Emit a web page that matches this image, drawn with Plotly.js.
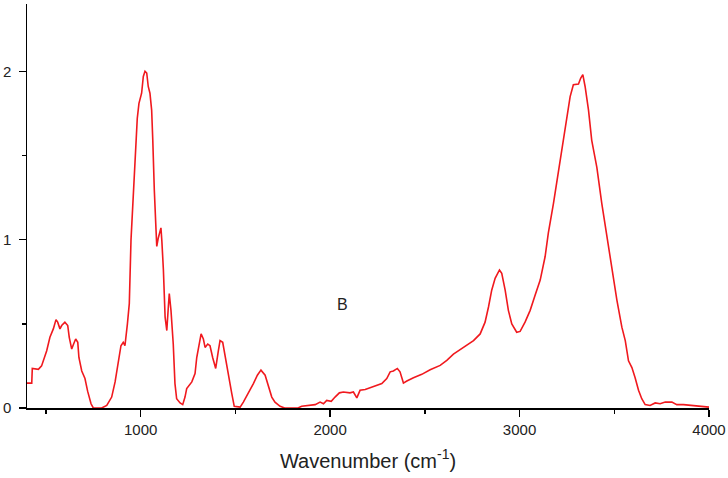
<!DOCTYPE html>
<html>
<head>
<meta charset="utf-8">
<script src="https://cdn.plot.ly/plotly-3.0.1.min.js"></script>
<style>html,body{margin:0;padding:0;background:#fff;}#chart{width:728px;height:478px;}</style>
</head>
<body>
<div id="chart"></div>
<script>
const wavenumber = [400,425,428,460,477,504,521,539,553,562,574,583,600,615,623,636,646,657,668,674,689,706,720,738,750,794,821,847,865,882,896,908,917,930,940,949,958,966,975,982,991,1005,1014,1023,1032,1040,1049,1058,1064,1067,1072,1081,1085,1093,1102,1107,1112,1120,1129,1138,1146,1151,1160,1172,1181,1190,1208,1222,1234,1243,1270,1287,1296,1310,1319,1331,1340,1354,1366,1380,1396,1410,1419,1433,1445,1463,1481,1494,1525,1542,1568,1595,1616,1635,1657,1674,1692,1709,1736,1760,1830,1850,1885,1921,1947,1965,1982,2006,2026,2049,2070,2105,2123,2141,2158,2185,2211,2246,2273,2299,2317,2334,2355,2369,2387,2405,2440,2484,2528,2581,2616,2651,2704,2757,2792,2818,2836,2853,2871,2894,2906,2924,2941,2959,2985,3003,3029,3056,3082,3109,3135,3152,3179,3205,3232,3249,3267,3284,3311,3323,3334,3346,3364,3381,3408,3434,3461,3487,3514,3540,3558,3575,3593,3610,3628,3645,3663,3689,3716,3742,3769,3804,3830,3865,3900,3936,3995,4000];
const absorbance = [0.148,0.148,0.235,0.23,0.25,0.34,0.42,0.47,0.525,0.51,0.47,0.49,0.51,0.49,0.42,0.35,0.38,0.41,0.39,0.30,0.22,0.175,0.10,0.025,0,0,0.015,0.065,0.155,0.265,0.37,0.39,0.37,0.50,0.62,1.00,1.20,1.40,1.59,1.72,1.81,1.87,1.97,2.00,1.99,1.91,1.87,1.77,1.59,1.45,1.295,1.06,0.96,1.01,1.06,1.07,0.99,0.82,0.54,0.46,0.60,0.68,0.58,0.38,0.145,0.055,0.03,0.02,0.065,0.115,0.155,0.205,0.30,0.40,0.44,0.41,0.36,0.38,0.37,0.30,0.235,0.34,0.40,0.39,0.31,0.205,0.085,0.01,0.005,0.035,0.085,0.145,0.195,0.225,0.195,0.135,0.065,0.035,0.01,0,0,0.01,0.015,0.02,0.035,0.025,0.045,0.04,0.065,0.09,0.095,0.09,0.095,0.06,0.105,0.11,0.12,0.135,0.145,0.175,0.215,0.22,0.235,0.215,0.148,0.16,0.18,0.2,0.227,0.253,0.283,0.32,0.36,0.40,0.44,0.51,0.60,0.70,0.77,0.82,0.80,0.70,0.58,0.50,0.45,0.455,0.51,0.58,0.67,0.76,0.90,1.04,1.215,1.41,1.59,1.73,1.85,1.92,1.925,1.96,1.98,1.91,1.77,1.59,1.43,1.215,1.02,0.84,0.64,0.48,0.40,0.28,0.24,0.18,0.105,0.055,0.02,0.015,0.03,0.025,0.035,0.035,0.02,0.02,0.015,0.01,0.005,0.005];
const xTickVals = [1000,2000,3000,4000];
const yTickVals = [0,1,2];
const xTitle = 'Wavenumber (cm<sup>-1</sup>)';
const labelText = 'B';

const tickFont = {family: 'Liberation Sans, Arial, sans-serif', size: 15, color: '#222'};

Plotly.newPlot('chart', [{
  x: wavenumber, y: absorbance, type: 'scatter', mode: 'lines',
  line: {color: 'rgb(240,25,30)', width: 1.6}, hoverinfo: 'skip'
}], {
  width: 728, height: 478,
  margin: {l: 27, r: 19, t: 4, b: 70, pad: 0},
  paper_bgcolor: '#fff', plot_bgcolor: '#fff',
  showlegend: false,
  xaxis: {
    range: [400, 4000], tickvals: xTickVals, ticktext: xTickVals.map(String),
    showline: true, linecolor: '#000', linewidth: 1.5, mirror: false,
    showgrid: false, zeroline: false,
    ticks: 'outside', ticklen: 7, tickwidth: 1.5, tickcolor: '#000',
    minor: {dtick: 500, tick0: 0, ticks: 'outside', ticklen: 4, tickwidth: 1.5, tickcolor: '#000', showgrid: false},
    tickfont: tickFont,
    title: {text: xTitle, font: {family: 'Liberation Sans, Arial, sans-serif', size: 20, color: '#222'}, standoff: 17}
  },
  yaxis: {
    range: [0, 2.4], tickvals: yTickVals, ticktext: yTickVals.map(v => String(v) + '\u00a0'),
    showline: true, linecolor: '#000', linewidth: 1.5,
    showgrid: false, zeroline: false,
    ticks: 'outside', ticklen: 7, tickwidth: 1.5, tickcolor: '#000',
    minor: {dtick: 0.5, tick0: 0, ticks: 'outside', ticklen: 4, tickwidth: 1.5, tickcolor: '#000', showgrid: false},
    tickfont: tickFont
  },
  annotations: [{x: 2068, y: 0.616, xref: 'x', yref: 'y', text: labelText, showarrow: false,
    font: {family: 'Liberation Sans, Arial, sans-serif', size: 16, color: '#222'}}]
}, {staticPlot: true, displayModeBar: false});
</script>
</body>
</html>
